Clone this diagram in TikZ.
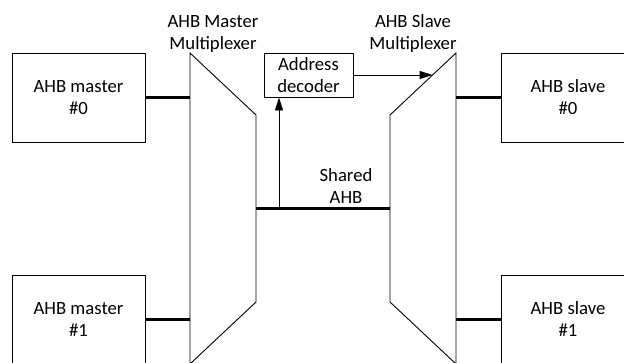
\documentclass[tikz,border=0pt]{standalone}
\usepackage{fontspec}
\setmainfont{Carlito}
\usetikzlibrary{arrows.meta, positioning}

\begin{document}
\begin{tikzpicture}[x=1pt,y=-1pt,font=\fontsize{18.7}{22}\selectfont,line width=0.9pt,
    box/.style={draw,minimum width=133pt,minimum height=89pt,inner sep=0pt,align=center},
    lbl/.style={align=center,inner sep=0pt},
    bus/.style={line width=3pt},
    arr/.style={-{Triangle[length=13pt,width=8pt]}}]
    \useasboundingbox (0,0) rectangle (624,362);
    % masters and slaves
    \node[box](m0) at (78.5,97.5){AHB master\\\#0};
    \node[box](m1) at (78.5,319.5){AHB master\\\#1};
    \node[box](s0) at (568,97.5){AHB slave\\\#0};
    \node[box](s1) at (568,319.5){AHB slave\\\#1};
    \node[box,minimum width=89pt,minimum height=44pt](dec) at (308.5,75){Address\\decoder};
    % multiplexers
    \coordinate (mm-t) at (190,53);
    \coordinate (mm-r) at (256,115);
    \draw (mm-t) -- (mm-r) -- (256,302) -- (190,364) -- cycle;
    \coordinate (sm-t) at (456,53);
    \coordinate (sm-l) at (390,115);
    \draw (sm-t) -- (sm-l) -- (390,302) -- (456,364) -- cycle;
    \node[lbl](mml) at (213,34){AHB Master\\Multiplexer};
    \node[lbl](sml) at (413,34){AHB Slave\\Multiplexer};
    % buses
    \draw[bus](m0.east) -- (m0.east -| mm-t);
    \draw[bus](m1.east) -- (m1.east -| mm-t);
    \draw[bus](s0.west) -- (s0.west -| sm-t);
    \draw[bus](s1.west) -- (s1.west -| sm-t);
    \coordinate (sh) at (256,208);
    \draw[bus](sh) -- (sh -| sm-l);
    \node[lbl](shl) at (346,186){Shared\\AHB};
    % address decoding
    \coordinate (tap) at (279,208);
    \draw[arr](tap) -- (tap |- dec.south);
    \coordinate (sel) at (432.6,75);
    \draw[arr](dec.east) -- (sel);
  \end{tikzpicture}
\end{document}
